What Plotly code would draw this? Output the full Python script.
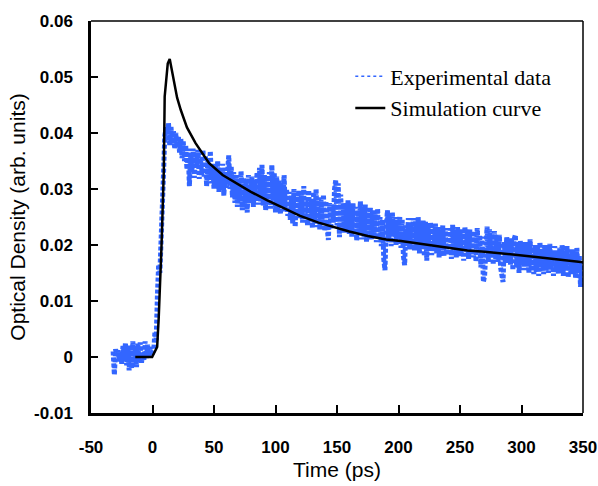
import plotly.graph_objects as go

# ---------------- data ----------------
# Experimental data, sampled every 1 ps from -32 ps to 350 ps, OD in units of 1e-4
exp_time = list(range(-32, 351))
exp_baseline = [10, -32, 14, 2, 12, -8, 8, -12, 20, -5, 25, -15, 18, -24, 22, -20, 28, -10,
                15, -18, 24, -8, 26, -12, 10, -5, 28, -2, 22, 0, 18, 2, 8]          # -32 .. 0
exp_rise = [12, 45, 30, 110, 165, 150, 240, 300, 330, 395]                          # 1 .. 10
exp_decay = [
    410, 385, 418, 378, 412, 382, 405, 372, 400, 375,      # 11-20
    395, 365, 390, 355, 385, 350, 378, 335, 372, 305,      # 21-30
    365, 330, 372, 320, 362, 338, 370, 318, 355, 325,      # 31-40
    370, 322, 360, 305, 350, 318, 368, 310, 345, 300,      # 41-50
    340, 305, 350, 295, 335, 300, 345, 288, 330, 302,      # 51-60
    355, 360, 300, 340, 285, 330, 275, 325, 268, 315,      # 61-70
    280, 332, 262, 320, 270, 310, 258, 325, 275, 305,      # 71-80
    322, 268, 315, 280, 330, 272, 338, 278, 343, 270,      # 81-90
    325, 262, 318, 275, 330, 265, 343, 280, 328, 258,      # 91-100
    322, 262, 315, 255, 308, 272, 325, 260, 300, 252,      # 101-110
    295, 245, 288, 238, 300, 232, 292, 255, 298, 248,      # 111-120
    290, 240, 305, 252, 285, 235, 298, 245, 280, 230,      # 121-130
    295, 238, 300, 232, 285, 228, 280, 240, 290, 225,      # 131-140
    278, 230, 209, 275, 228, 270, 240, 300, 316, 235,      # 141-150
    310, 214, 290, 230, 275, 222, 268, 235, 280, 220,      # 151-160
    270, 215, 275, 225, 268, 208, 262, 222, 278, 210,      # 161-170
    265, 215, 272, 205, 258, 225, 268, 210, 262, 218,      # 171-180
    255, 205, 265, 212, 250, 198, 245, 175, 155, 230,      # 181-190
    262, 205, 255, 198, 258, 215, 250, 200, 245, 210,      # 191-200
    250, 195, 245, 180, 164, 235, 198, 248, 192, 240,      # 201-210
    200, 248, 190, 242, 195, 250, 185, 238, 195, 245,      # 211-220
    180, 242, 172, 235, 190, 240, 182, 230, 195, 238,      # 221-230
    185, 232, 178, 228, 192, 235, 180, 225, 188, 230,      # 231-240
    182, 230, 175, 236, 190, 225, 178, 232, 185, 228,      # 241-250
    180, 226, 172, 232, 188, 222, 175, 228, 182, 220,      # 251-260
    178, 225, 170, 230, 185, 218, 160, 215, 134, 145,      # 261-270
    200, 233, 170, 228, 180, 220, 165, 225, 175, 215,      # 271-280
    170, 218, 160, 150, 134, 205, 168, 215, 175, 210,      # 281-290
    165, 212, 155, 210, 218, 160, 205, 150, 208, 165,      # 291-300
    200, 155, 205, 162, 198, 150, 210, 158, 195, 148,      # 301-310
    200, 152, 195, 145, 205, 160, 192, 148, 200, 155,      # 311-320
    195, 150, 202, 158, 190, 145, 198, 152, 188, 148,      # 321-330
    195, 150, 200, 145, 190, 155, 198, 142, 185, 150,      # 331-340
    192, 148, 185, 140, 195, 150, 180, 125, 170, 145,      # 341-350
]
exp_od = [v * 1e-4 for v in exp_baseline + exp_rise + exp_decay]

# Simulation curve
sim_time = [-14, -0.3, 3.8, 5.1, 7.3, 9.2, 9.9, 11.4, 12.4, 14, 14.8, 17, 20, 23, 28, 35, 39,
            46, 57, 66, 80, 93, 105, 120, 135, 147, 160, 175, 190, 202, 220, 240, 256, 270,
            290, 310, 330, 350]
sim_od = [0, 0, 0.0018, 0.0072, 0.0197, 0.0334, 0.0465, 0.0497, 0.0524, 0.0532, 0.0522,
          0.0497, 0.0463, 0.0441, 0.0410, 0.0382, 0.0368, 0.0346, 0.0325, 0.0313, 0.0295,
          0.0280, 0.0267, 0.0252, 0.0240, 0.0232, 0.0224, 0.0216, 0.0210, 0.0207, 0.0201,
          0.0195, 0.0190, 0.0188, 0.0184, 0.0179, 0.0174, 0.0169]

x_tickvals = [-50, 0, 50, 100, 150, 200, 250, 300, 350]
x_ticktext = ["-50", "0", "50", "100", "150", "200", "250", "300", "350"]
y_tickvals = [-0.01, 0, 0.01, 0.02, 0.03, 0.04, 0.05, 0.06]
y_ticktext = ["-0.01", "0", "0.01", "0.02", "0.03", "0.04", "0.05", "0.06"]

BLUE = "#3366ff"
TICKFONT = dict(family="Liberation Sans, Arial, sans-serif",
                size=17, color="black", weight="bold")
TITLEFONT = dict(family="Liberation Sans, Arial, sans-serif", size=21, color="black")

fig = go.Figure()
fig.add_trace(go.Scatter(x=exp_time, y=exp_od, mode="lines",
                         line=dict(color=BLUE, width=5, dash="4px,2px"),
                         showlegend=False, name="Experimental data"))
fig.add_trace(go.Scatter(x=[None], y=[None], mode="lines",
                         line=dict(color=BLUE, width=1.5, dash="dot"),
                         name="Experimental data"))
fig.add_trace(go.Scatter(x=sim_time, y=sim_od, mode="lines",
                         line=dict(color="black", width=2.5),
                         name="Simulation curve"))

fig.update_layout(
    width=598, height=486,
    margin=dict(l=91, r=15, t=21, b=73),
    paper_bgcolor="white", plot_bgcolor="white",
    legend=dict(x=0.527, y=0.912, xanchor="left", yanchor="top",
                font=dict(family="Liberation Serif, Times New Roman, serif", size=22, color="black"),
                bgcolor="rgba(0,0,0,0)", itemwidth=30),
    shapes=[
        dict(type="line", xref="paper", yref="paper", x0=0, x1=1, y0=1, y1=1,
             line=dict(color="black", width=1.5)),
        dict(type="line", xref="paper", yref="paper", x0=1, x1=1, y0=0, y1=1,
             line=dict(color="black", width=1.5)),
    ],
)
fig.update_xaxes(range=[-50, 350], tickvals=x_tickvals, ticktext=x_ticktext, automargin=False,
                 showgrid=False, zeroline=False, showline=True, linecolor="black", linewidth=2.5,
                 ticks="inside", ticklen=8, tickwidth=2, tickcolor="black",
                 tickfont=TICKFONT, ticklabelstandoff=17, ticklabeloverflow="allow",
                 title=dict(text="Time (ps)", font=TITLEFONT, standoff=7))
fig.update_yaxes(range=[-0.01, 0.06], tickvals=y_tickvals, ticktext=y_ticktext, automargin=False,
                 showgrid=False, zeroline=False, showline=True, linecolor="black", linewidth=2.5,
                 ticks="inside", ticklen=7, tickwidth=2, tickcolor="black",
                 tickfont=TICKFONT, ticklabelstandoff=12, ticklabeloverflow="allow",
                 title=dict(text="Optical Density (arb. units)", font=TITLEFONT, standoff=3))

# remove the default page margin so the 598x486 figure fills the window exactly
fig.write_html("out.html", config={"displayModeBar": False},
               post_script="document.body.style.margin='0';document.body.style.overflow='hidden';")
